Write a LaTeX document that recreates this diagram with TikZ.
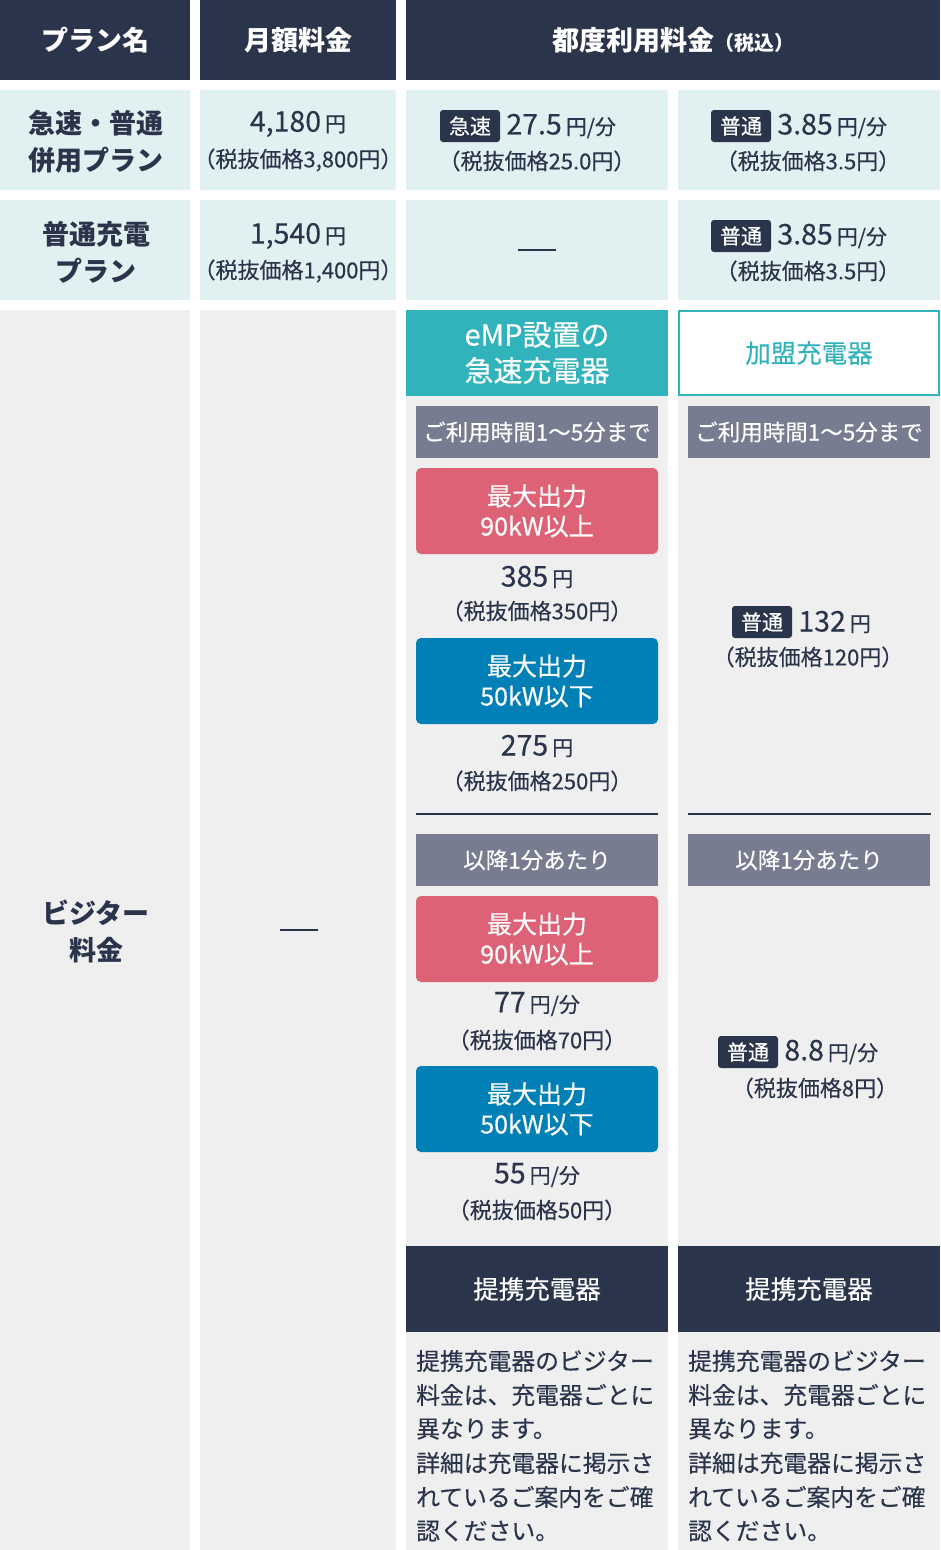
\documentclass[tikz,border=0pt]{standalone}
\usepackage{fontspec}
\setmainfont{Noto Sans CJK JP}[UprightFeatures={FakeBold=0.35}]
\definecolor{navy}{HTML}{2A344B}
\definecolor{lteal}{HTML}{E1F0F0}
\definecolor{lgray}{HTML}{EFEFEF}
\definecolor{lblgray}{HTML}{777C90}
\definecolor{pink}{HTML}{DE6275}
\definecolor{dblue}{HTML}{0080B6}
\definecolor{teal}{HTML}{30B3BA}
\newcommand\fs[2]{\fontsize{#1}{#2}\selectfont}
\newcommand\prc[2]{{\fs{28.5}{28.5}#1}\hspace{4pt}{\fs{21}{21}#2}}
\tikzset{
  cell/.style={rectangle, anchor=north west, inner sep=0pt, outer sep=0pt},
  W/.style={minimum width=#1pt},
  H/.style={minimum height=#1pt},
  hdr/.style={cell, fill=navy, text=white, font=\bfseries\fs{27}{27}},
  tcell/.style={cell, fill=lteal},
  gcell/.style={cell, fill=lgray},
  plan/.style={text=navy, align=center, font=\bfseries\fs{27}{37}, inner sep=0pt},
  txt/.style={text=navy, inner sep=0pt},
  sub/.style={txt, font=\fs{22}{22}},
  badge/.style={rectangle, rounded corners=3pt, fill=navy, text=white, minimum width=60pt, minimum height=32pt, inner sep=0pt, font=\fs{21}{21}},
  lbl/.style={cell, fill=lblgray, text=white, W=242, H=52, font=\fs{22.5}{22.5}},
  pw/.style={cell, rounded corners=5pt, text=white, W=242, H=86, align=center, font=\fs{25}{30}},
  dhdr/.style={cell, fill=navy, text=white, W=262, H=86, font=\fs{25.5}{25.5}},
  body/.style={txt, anchor=west, font=\fs{23.8}{23.8}},
  rule/.style={draw=navy, line width=2pt}
}
\begin{document}
\begin{tikzpicture}[x=1pt,y=-1pt]
\useasboundingbox (0,0) rectangle (940,1550);
% header row
\node[hdr, W=190, H=80] (h1) at (0,0) {プラン名};
\node[hdr, W=196, H=80] (h2) at (200,0) {月額料金};
\node[hdr, W=534, H=80] (h3) at (406,0) {都度利用料金{\fs{20}{20}（税込）}};
% row 1
\node[tcell, W=190, H=100] (r1c1) at (0,90) {};
\node[tcell, W=196, H=100] (r1c2) at (200,90) {};
\node[tcell, W=262, H=100] (r1c3) at (406,90) {};
\node[tcell, W=262, H=100] (r1c4) at (678,90) {};
\node[plan] (p1) at (96,142) {急速・普通\\併用プラン};
\node[txt] (m1) at (298,124) {\prc{4,180}{円}};
\node[sub] (m1s) at (298,160) {（税抜価格3,800円）};
\node[badge] (b1) at (470,126) {急速};
\node[txt, anchor=west] (q1) at ([xshift=6pt]b1.east) {\prc{27.5}{円/分}};
\node[sub] (q1s) at (537,161) {（税抜価格25.0円）};
\node[badge] (b2) at (741,126) {普通};
\node[txt, anchor=west] (q2) at ([xshift=6pt]b2.east) {\prc{3.85}{円/分}};
\node[sub] (q2s) at (808,161) {（税抜価格3.5円）};
% row 2
\node[tcell, W=190, H=100] (r2c1) at (0,200) {};
\node[tcell, W=196, H=100] (r2c2) at (200,200) {};
\node[tcell, W=262, H=100] (r2c3) at (406,200) {};
\node[tcell, W=262, H=100] (r2c4) at (678,200) {};
\node[plan] (p2) at (96,252) {普通充電\\プラン};
\node[txt] (m2) at (298,236) {\prc{1,540}{円}};
\node[sub] (m2s) at (298,271) {（税抜価格1,400円）};
\draw[rule] ([xshift=-19pt]r2c3.center) -- ([xshift=19pt]r2c3.center);
\node[badge] (b3) at (741,236) {普通};
\node[txt, anchor=west] (q3) at ([xshift=6pt]b3.east) {\prc{3.85}{円/分}};
\node[sub] (q3s) at (808,271) {（税抜価格3.5円）};
% row 3
\node[gcell, W=190, H=1240] (r3c1) at (0,310) {};
\node[gcell, W=196, H=1240] (r3c2) at (200,310) {};
\node[gcell, W=262, H=1240] (r3c3) at (406,310) {};
\node[gcell, W=262, H=1240] (r3c4) at (678,310) {};
\node[plan] (p3) at (96,931) {ビジター\\料金};
\draw[rule] (280,930) -- (318,930);
% column 3 : eMP
\node[cell, fill=teal, text=white, W=262, H=86, align=center, font=\fs{29}{36}] (emp) at (406,310) {eMP設置の\\急速充電器};
\node[cell, fill=white, draw=teal, line width=2pt, W=260, H=84, text=teal, font=\fs{25.5}{25.5}] (kamei) at (679,311) {加盟充電器};
\node[lbl] (l1) at (416,406) {ご利用時間1〜5分まで};
\node[lbl] (l2) at (688,406) {ご利用時間1〜5分まで};
\node[pw, fill=pink] (x1) at (416,468) {最大出力\\90kW以上};
\node[txt] (x1p) at (537,577) {\prc{385}{円}};
\node[sub] (x1s) at (537,611) {（税抜価格350円）};
\node[pw, fill=dblue] (x2) at (416,638) {最大出力\\50kW以下};
\node[txt] (x2p) at (537,746) {\prc{275}{円}};
\node[sub] (x2s) at (537,781) {（税抜価格250円）};
\draw[rule] (416,814) -- (658,814);
\draw[rule] (688,814) -- (931,814);
\node[lbl] (l3) at (416,834) {以降1分あたり};
\node[lbl] (l4) at (688,834) {以降1分あたり};
\node[pw, fill=pink] (x3) at (416,896) {最大出力\\90kW以上};
\node[txt] (x3p) at (537,1004) {\prc{77}{円/分}};
\node[sub] (x3s) at (537,1040) {（税抜価格70円）};
\node[pw, fill=dblue] (x4) at (416,1066) {最大出力\\50kW以下};
\node[txt] (x4p) at (537,1175) {\prc{55}{円/分}};
\node[sub] (x4s) at (537,1210) {（税抜価格50円）};
% column 4
\node[badge] (b4) at (762,622) {普通};
\node[txt, anchor=west] (q4) at ([xshift=6pt]b4.east) {\prc{132}{円}};
\node[sub] (q4s) at (808,657) {（税抜価格120円）};
\node[badge] (b5) at (748,1052) {普通};
\node[txt, anchor=west] (q5) at ([xshift=6pt]b5.east) {\prc{8.8}{円/分}};
\node[sub] (q5s) at (815,1088) {（税抜価格8円）};
% partner chargers
\node[dhdr] (t1) at (406,1246) {提携充電器};
\node[dhdr] (t2) at (678,1246) {提携充電器};
\foreach \s/\t [count=\i] in {提携充電器のビジター/0, 料金は、充電器ごとに/1, 異なります。/2, 詳細は充電器に掲示さ/3, れているご案内をご確/4, 認ください。/5}{
  \node[body] (ba\i) at (416,1361+34*\t) {\s};
  \node[body] (bb\i) at (688,1361+34*\t) {\s};
}
\end{tikzpicture}
\end{document}
